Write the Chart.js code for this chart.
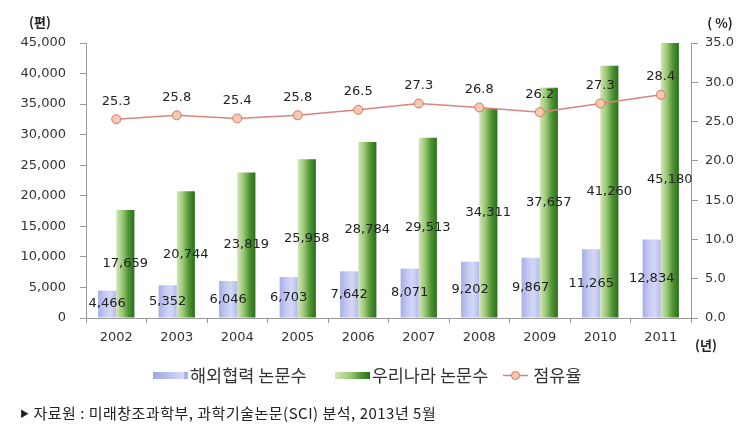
<!DOCTYPE html>
<html>
<head>
<meta charset="utf-8">
<script src="https://cdn.jsdelivr.net/npm/chart.js@4"></script>
<style>
  body { margin: 0; background: #fff; }
  #wrap { position: relative; width: 756px; height: 434px; }
  #legend {
    position: absolute; left: 153px; top: 364px; height: 18px;
    font: 17.5px "Noto Sans CJK KR", sans-serif; color: #333;
    line-height: 18px; white-space: nowrap;
  }
  #legend .key { display: inline-block; vertical-align: middle; }
  #legend .sw { width: 35px; height: 7px; margin-right: 2px; }
  #legend .blue { background: linear-gradient(to right, #9ea6de, #c4caf1 60%, #d4d9f5 88%, #9aa2da 92%, #b8bfec); }
  #legend .green { background: linear-gradient(to right, #d3e6b8, #9cc878 45%, #4f9433 75%, #2a6e1a); }
  #legend .txt { vertical-align: middle; }
  #note {
    position: absolute; left: 20px; top: 402px; line-height: 20px;
    font: 15px "Noto Sans CJK KR", sans-serif; color: #222;
    letter-spacing: 0.5px; white-space: nowrap;
  }
  #note .mark { font-size: 9px; vertical-align: 2px; }
</style>
</head>
<body>
<div id="wrap">
  <canvas id="paperChart"></canvas>
  <div id="legend"></div>
  <div id="note"><span class="mark">▶</span> 자료원 : 미래창조과학부, 과학기술논문(SCI) 분석, 2013년 5월</div>
</div>
<script>
const years = ["2002", "2003", "2004", "2005", "2006", "2007", "2008", "2009", "2010", "2011"];
const overseasPapers = [4466, 5352, 6046, 6703, 7642, 8071, 9202, 9867, 11265, 12834];
const koreaPapers = [17659, 20744, 23819, 25958, 28784, 29513, 34311, 37657, 41260, 45180];
const shareRate = [25.3, 25.8, 25.4, 25.8, 26.5, 27.3, 26.8, 26.2, 27.3, 28.4];
const seriesNames = ["해외협력 논문수", "우리나라 논문수", "점유율"];

const blueStops = ["#a6aee6", "#c2c8f1", "#d4d8f6", "#b3baeb"];
const greenStops = ["#d3e6b8", "#9cc878", "#4f9433", "#2a6e1a"];

// horizontal gradient across one bar
function barGradient(ctx, stops, side) {
    const chart = ctx.chart;
    if (!chart.chartArea || ctx.type !== "data") {
        return stops[1];
    }
    const xs = chart.scales.x;
    const cx = xs.getPixelForValue(ctx.dataIndex);
    const w = (xs.width / years.length) * 0.3;
    const x0 = side < 0 ? cx - w : cx;
    const g = chart.ctx.createLinearGradient(x0, 0, x0 + w, 0);
    stops.forEach((c, i) => g.addColorStop(i / (stops.length - 1), c));
    return g;
}

// html legend
document.getElementById("legend").innerHTML =
    `<span class="key sw blue"></span><span class="txt" style="margin-right:28px">${seriesNames[0]}</span>` +
    `<span class="key sw green"></span><span class="txt" style="margin-right:15px">${seriesNames[1]}</span>` +
    `<svg class="key" width="25" height="11" style="margin-right:5px">` +
    `<line x1="0" y1="5.5" x2="25" y2="5.5" stroke="#d9857c" stroke-width="1.5"/>` +
    `<circle cx="12.5" cy="5.5" r="4" fill="#f8c9ae" stroke="#d27563" stroke-width="1"/></svg>` +
    `<span class="txt">${seriesNames[2]}</span>`;

const valueLabels = {
    id: "valueLabels",
    afterDatasetsDraw(chart) {
        const ctx = chart.ctx;
        ctx.save();
        ctx.font = '13px "DejaVu Sans"';
        ctx.fillStyle = "#222";
        ctx.textAlign = "center";
        ctx.textBaseline = "middle";
        chart.data.datasets.forEach((ds, i) => {
            const meta = chart.getDatasetMeta(i);
            meta.data.forEach((el, j) => {
                const v = ds.data[j];
                if (meta.type === "bar") {
                    ctx.fillText(v.toLocaleString("en-US"), el.x, (el.y + el.base) / 2);
                } else {
                    ctx.fillText(v.toFixed(1), el.x, el.y - 18);
                }
            });
        });
        ctx.restore();
    }
};

const unitLabels = {
    id: "unitLabels",
    afterDraw(chart) {
        const ctx = chart.ctx;
        ctx.save();
        ctx.font = 'bold 13px "Noto Sans CJK KR", "DejaVu Sans"';
        ctx.fillStyle = "#222";
        ctx.textAlign = "center";
        ctx.textBaseline = "middle";
        ctx.fillText("(편)", 40, 22);
        ctx.fillText("( %)", 720, 23);
        ctx.fillText("(년)", 706, 345);
        ctx.restore();
    }
};

const ctx = document.getElementById("paperChart").getContext("2d");

new Chart(ctx, {
    type: "bar",
    data: {
        labels: years,
        datasets: [
            {
                label: seriesNames[0],
                data: overseasPapers,
                backgroundColor: c => barGradient(c, blueStops, -1),
                yAxisID: "y",
                order: 1
            },
            {
                label: seriesNames[1],
                data: koreaPapers,
                backgroundColor: c => barGradient(c, greenStops, 1),
                yAxisID: "y",
                order: 1
            },
            {
                type: "line",
                label: seriesNames[2],
                data: shareRate,
                yAxisID: "y1",
                borderColor: "#d9857c",
                borderWidth: 1.5,
                pointRadius: 4.5,
                pointBackgroundColor: "#f8c9ae",
                pointBorderColor: "#d27563",
                pointBorderWidth: 1,
                order: 0
            }
        ]
    },
    options: {
        responsive: true,
        maintainAspectRatio: false,
        animation: false,
        datasets: {
            bar: {
                barPercentage: 1,
                categoryPercentage: 0.6
            }
        },
        layout: {
            padding: { top: 43, bottom: 79, left: 0, right: 0 }
        },
        scales: {
            x: {
                grid: {
                    offset: true,
                    drawOnChartArea: false,
                    color: "#999",
                    tickLength: 5
                },
                border: { color: "#999" },
                ticks: {
                    color: "#333",
                    padding: 7,
                    font: { family: "DejaVu Sans", size: 13 }
                },
                afterFit(scale) {
                    scale.height = 37;
                }
            },
            y: {
                position: "left",
                min: 0,
                max: 45000,
                grid: {
                    drawOnChartArea: false,
                    color: "#999",
                    tickLength: 6
                },
                border: { color: "#999" },
                ticks: {
                    stepSize: 5000,
                    color: "#333",
                    padding: 14,
                    font: { family: "DejaVu Sans", size: 13 },
                    callback: v => v.toLocaleString("en-US")
                },
                afterFit(scale) {
                    scale.width = 86;
                }
            },
            y1: {
                position: "right",
                min: 0,
                max: 35,
                grid: {
                    drawOnChartArea: false,
                    color: "#999",
                    tickLength: 7
                },
                border: { color: "#999" },
                ticks: {
                    stepSize: 5,
                    color: "#333",
                    padding: 7,
                    font: { family: "DejaVu Sans", size: 13 },
                    callback: v => v.toFixed(1)
                },
                afterFit(scale) {
                    scale.width = 65;
                }
            }
        },
        plugins: {
            tooltip: { enabled: false },
            legend: { display: false }
        }
    },
    plugins: [valueLabels, unitLabels]
});
</script>
</body>
</html>
